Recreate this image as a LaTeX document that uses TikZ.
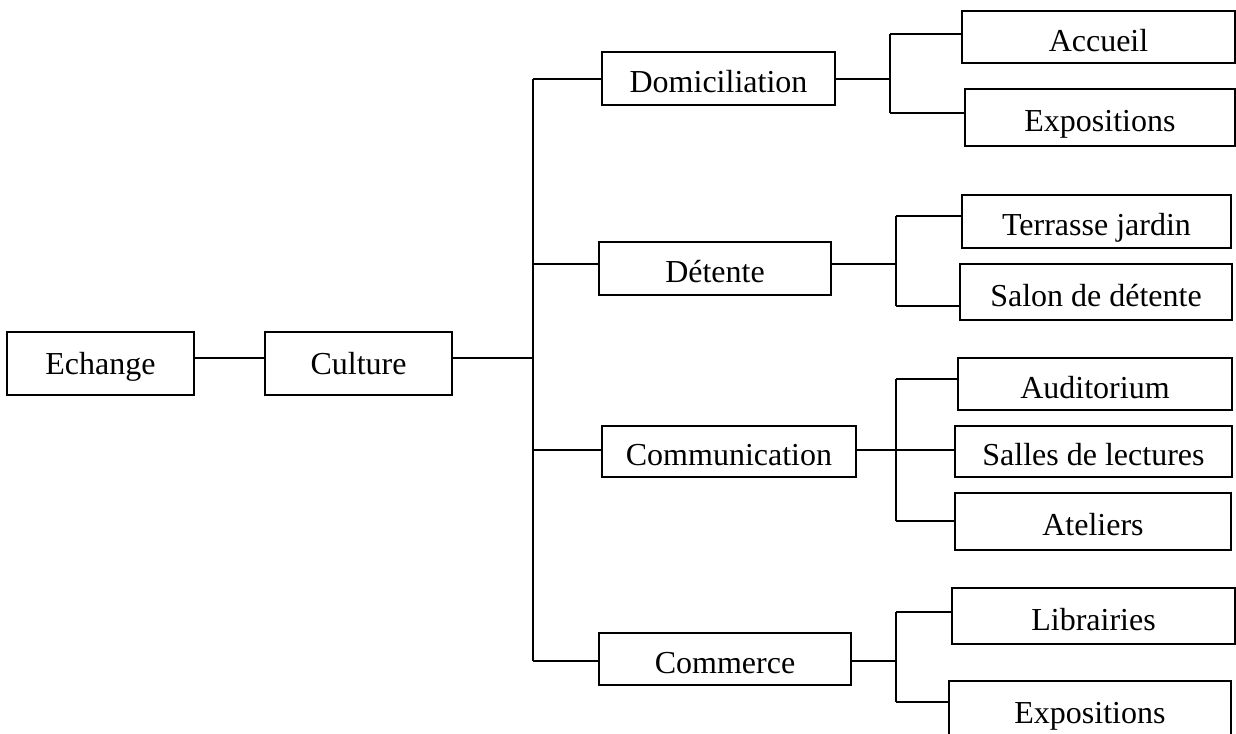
\documentclass[tikz,border=0pt]{standalone}
\usepackage{fontspec}
\setmainfont{Liberation Serif}
\usetikzlibrary{calc, positioning}

\begin{document}
\begin{tikzpicture}[x=0.375pt, y=-0.375pt, line width=0.7pt]
	\tikzstyle{block} = [rectangle, draw, text centered, inner sep=0pt, minimum height=20pt, text height=10.6pt, text depth=0pt, font=\fontsize{12}{14}\selectfont]
	\tikzstyle{root} = [block, minimum width=70.1pt, minimum height=23.6pt, text height=9pt, text depth=1pt]
	\tikzstyle{leaf} = [block, minimum width=102.5pt]

	\useasboundingbox (0,0) rectangle (1236,733);

	% first level
	\node [root]	(echange)	at (100.5,363.5)	{Echange};
	\node [root]	(culture)	at (358.5,363.5)	{Culture};

	% second level
	\node [block, minimum width=87.4pt]	(domic)		at (718.5,78.5)		{Domiciliation};
	\node [block, minimum width=87pt]	(detente)	at (715,268.5)		{Détente};
	\node [block, minimum width=95.3pt, minimum height=19.1pt]	(commu)		at (729,451.5)		{Communication};
	\node [block, minimum width=94.5pt, minimum height=19.5pt]	(commerce)	at (725,659)		{Commerce};

	% third level
	\node [leaf, minimum height=19.5pt]	(accueil)	at (1098.5,37)		{Accueil};
	\node [leaf, minimum width=101.3pt, minimum height=21.4pt]	(expo)		at (1100,117.5)		{Expositions};
	\node [leaf, minimum width=100.9pt]	(terrasse)	at (1096.5,221.5)	{Terrasse jardin};
	\node [leaf, minimum width=102pt, minimum height=21pt]	(salon)		at (1096,292)		{Salon de détente};
	\node [leaf, minimum width=102.8pt, minimum height=19.5pt]	(audit)		at (1095,384)		{Auditorium};
	\node [leaf, minimum width=103.9pt, minimum height=19.1pt]	(salles)	at (1093.5,451.5)	{Salles de lectures};
	\node [leaf, minimum width=103.5pt, minimum height=21.4pt]	(ateliers)	at (1093,521.5)		{Ateliers};
	\node [leaf, minimum width=106.1pt, minimum height=21pt]	(librairies)	at (1093.5,616)		{Librairies};
	\node [leaf, minimum width=105.8pt, minimum height=21.4pt]	(expo two)	at (1090,709.5)		{Expositions};

	% trunk
	\coordinate (trunk top)		at (533,79);
	\coordinate (trunk det)		at (533,264);
	\coordinate (trunk cult)	at (533,358);
	\coordinate (trunk com)		at (533,450);
	\coordinate (trunk bot)		at (533,661);

	\draw (echange.east |- trunk cult) -- (culture.west |- trunk cult);
	\draw (culture.east |- trunk cult) -- (trunk cult);
	\draw (trunk top) -- (trunk bot);
	\draw (trunk top) -- (domic.west |- trunk top);
	\draw (trunk det) -- (detente.west |- trunk det);
	\draw (trunk com) -- (commu.west |- trunk com);
	\draw (trunk bot) -- (commerce.west |- trunk bot);

	% sub trunks
	\coordinate (dom up)		at (890,34);
	\coordinate (dom down)		at (890,113);
	\coordinate (det up)		at (896,216);
	\coordinate (det down)		at (896,306);
	\coordinate (com up)		at (896,379);
	\coordinate (com down)		at (896,521);
	\coordinate (comm up)		at (896,612);
	\coordinate (comm down)		at (896,702);

	\draw (domic.east |- trunk top) -- (dom up |- trunk top);
	\draw (dom up) -- (dom down);
	\draw (dom up) -- (accueil.west |- dom up);
	\draw (dom down) -- (expo.west |- dom down);

	\draw (detente.east |- trunk det) -- (det up |- trunk det);
	\draw (det up) -- (det down);
	\draw (det up) -- (terrasse.west |- det up);
	\draw (det down) -- (salon.west |- det down);

	\draw (commu.east |- trunk com) -- (salles.west |- trunk com);
	\draw (com up) -- (com down);
	\draw (com up) -- (audit.west |- com up);
	\draw (com down) -- (ateliers.west |- com down);

	\draw (commerce.east |- trunk bot) -- (comm up |- trunk bot);
	\draw (comm up) -- (comm down);
	\draw (comm up) -- (librairies.west |- comm up);
	\draw (comm down) -- (expo two.west |- comm down);
\end{tikzpicture}
\end{document}
